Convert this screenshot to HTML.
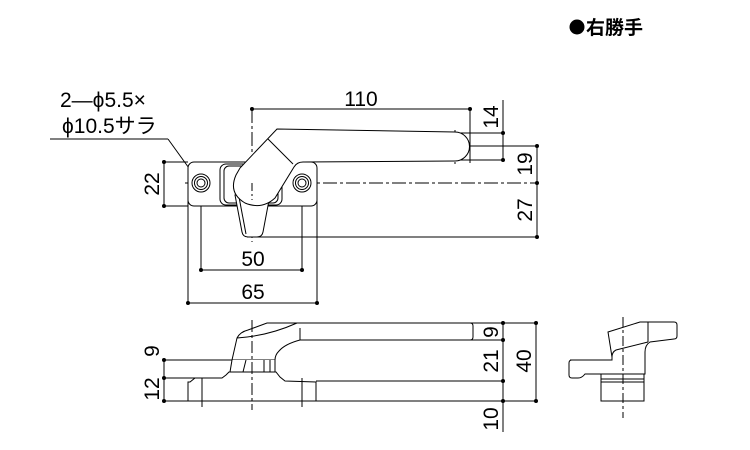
<!DOCTYPE html>
<html><head><meta charset="utf-8"><style>
html,body{margin:0;padding:0;background:#fff;}
svg{display:block;}
text{font-family:"Liberation Sans","Noto Sans CJK JP",sans-serif;fill:#000;}
</style></head><body>
<svg width="750" height="450" viewBox="0 0 750 450" xmlns="http://www.w3.org/2000/svg">
<g fill="none" stroke="#000" stroke-width="1">
<line x1="252" y1="109" x2="470" y2="109"/>
<line x1="470" y1="109" x2="470" y2="163"/>
<line x1="455" y1="133" x2="503" y2="133"/>
<line x1="455" y1="160" x2="503" y2="160"/>
<line x1="503" y1="100" x2="503" y2="160"/>
<line x1="440" y1="146" x2="537" y2="146"/>
<line x1="537" y1="146" x2="537" y2="237"/>
<line x1="247" y1="237" x2="537" y2="237"/>
<line x1="164" y1="162" x2="188" y2="162"/>
<line x1="164" y1="206" x2="188" y2="206"/>
<line x1="164" y1="162" x2="164" y2="206"/>
<line x1="201" y1="183" x2="201" y2="270"/>
<line x1="302" y1="183" x2="302" y2="270"/>
<line x1="201" y1="270" x2="302" y2="270"/>
<line x1="188" y1="190" x2="188" y2="303"/>
<line x1="317" y1="190" x2="317" y2="303"/>
<line x1="188" y1="303" x2="317" y2="303"/>
<line x1="50" y1="139" x2="168" y2="139"/>
<line x1="168" y1="139" x2="199" y2="182"/>
<line x1="185" y1="183" x2="537" y2="183" stroke-dasharray="14,3,3,3"/>
<line x1="252" y1="109" x2="252" y2="242" stroke-dasharray="14,3,3,3"/>
<line x1="455" y1="130" x2="455" y2="164" stroke-dasharray="10,3,3,3"/>
<rect x="188" y="162" width="129" height="44" rx="6" fill="#fff"/>
<rect x="220" y="164" width="62" height="41" rx="6" fill="#fff"/>
<rect x="224" y="166" width="54" height="37" rx="5"/>
<circle cx="201" cy="183" r="9" fill="#fff"/><circle cx="201" cy="183" r="6.5"/><circle cx="201" cy="183" r="4"/>
<circle cx="302" cy="183" r="9" fill="#fff"/><circle cx="302" cy="183" r="6.5"/><circle cx="302" cy="183" r="4"/>
<path d="M235 195 L270 195 L263 232 Q262 237 257 237 L248 237 Q243 237 242 232 Z" fill="#fff"/>
<path d="M239 197 L246 234" />
<path d="M277 129 L455 132 A14.5 14.5 0 0 1 455 161 L303 162 Q297 162 294 167 L275 198 Q262 210 245 203 Q228 193 236 175 L240 168 Z" fill="#fff"/>
<line x1="268" y1="139" x2="293" y2="164"/>
<line x1="252" y1="183" x2="252" y2="200" stroke-dasharray="8,3,2,3"/>
<line x1="164" y1="360" x2="232" y2="360"/>
<line x1="164" y1="378" x2="230" y2="378"/>
<line x1="164" y1="401" x2="188" y2="401"/>
<line x1="164" y1="360" x2="164" y2="401"/>
<line x1="470" y1="323" x2="536" y2="323"/>
<line x1="470" y1="340" x2="503" y2="340"/>
<line x1="316" y1="381" x2="503" y2="381"/>
<line x1="316" y1="401" x2="536" y2="401"/>
<line x1="503" y1="323" x2="503" y2="432"/>
<line x1="536" y1="323" x2="536" y2="401"/>
<path d="M267 323 L470 323 Q473 323 473 326 L473 337 Q473 340 470 340 L300 340 Q285 344 279 351 Q275 355 275 360 L232 360 L237 338 Q240 332 248 330 Z" fill="#fff"/>
<path d="M237 338 Q268 336 297 323"/>
<line x1="300" y1="328" x2="300" y2="340"/>
<path d="M232 360 L230 372 L275 372 L275 360" fill="#fff"/>
<path d="M246 360 L243 372 M264 360 L264 372 M270 360 L270 372"/>
<path d="M229 372 L226 375 L222 378 L195 378 L190 382 L188 382 L188 401 L316 401 L316 382 L285 381 L280 377 L276 372 Z" fill="#fff"/>
<line x1="202" y1="378" x2="202" y2="407"/>
<line x1="302" y1="378" x2="302" y2="407"/>
<line x1="252" y1="320" x2="252" y2="410" stroke-dasharray="12,3,3,3"/>
<path d="M570 360 L612 360 L612 357 L608 332 L640 322 L674 322 Q677 322 677 325 L677 336 Q677 339 674 339 L650 342 Q645 345 645 352 L645 374 L601 374 L585 374 Q582 378 578 378 L572 378 Q569 378 569 375 L569 363 Q569 360 572 360 Z" fill="#fff"/>
<path d="M612 357 Q612 352 616 350 L648 342"/>
<line x1="648" y1="322" x2="648" y2="342"/>
<rect x="601" y="374" width="43" height="27" fill="#fff"/>
<line x1="601" y1="379" x2="644" y2="379"/>
<line x1="601" y1="382" x2="644" y2="382"/>
<line x1="623" y1="317" x2="623" y2="418" stroke-dasharray="10,3,3,3"/>
</g>
<g fill="#000">
<circle cx="577" cy="27" r="7.5"/>
<circle cx="252" cy="109" r="2"/><circle cx="470" cy="109" r="2"/>
<circle cx="503" cy="133" r="2"/><circle cx="503" cy="160" r="2"/>
<circle cx="537" cy="146" r="2"/><circle cx="537" cy="183" r="2"/><circle cx="537" cy="237" r="2"/>
<circle cx="164" cy="162" r="2"/><circle cx="164" cy="206" r="2"/>
<circle cx="201" cy="270" r="2"/><circle cx="302" cy="270" r="2"/>
<circle cx="188" cy="303" r="2"/><circle cx="317" cy="303" r="2"/>
<circle cx="164" cy="360" r="2"/><circle cx="164" cy="378" r="2"/><circle cx="164" cy="401" r="2"/>
<circle cx="503" cy="323" r="2"/><circle cx="503" cy="340" r="2"/><circle cx="503" cy="381" r="2"/><circle cx="503" cy="401" r="2"/>
<circle cx="536" cy="323" r="2"/><circle cx="536" cy="401" r="2"/>
</g>
<g font-size="21">
<text x="586" y="34" font-size="19" font-weight="bold">右勝手</text>
<text x="60" y="107">2—ϕ5.5×</text>
<text x="62" y="133">ϕ10.5サラ</text>
<text x="361" y="106" text-anchor="middle">110</text>
<text x="253" y="266" text-anchor="middle">50</text>
<text x="253" y="299" text-anchor="middle">65</text>
<text transform="translate(498,117) rotate(-90)" text-anchor="middle">14</text>
<text transform="translate(532,164) rotate(-90)" text-anchor="middle">19</text>
<text transform="translate(532,210) rotate(-90)" text-anchor="middle">27</text>
<text transform="translate(159,184) rotate(-90)" text-anchor="middle">22</text>
<text transform="translate(159,351) rotate(-90)" text-anchor="middle">9</text>
<text transform="translate(159,389) rotate(-90)" text-anchor="middle">12</text>
<text transform="translate(498,332) rotate(-90)" text-anchor="middle">9</text>
<text transform="translate(498,361) rotate(-90)" text-anchor="middle">21</text>
<text transform="translate(531,361) rotate(-90)" text-anchor="middle">40</text>
<text transform="translate(498,419) rotate(-90)" text-anchor="middle">10</text>
</g>
</svg>
</body></html>
